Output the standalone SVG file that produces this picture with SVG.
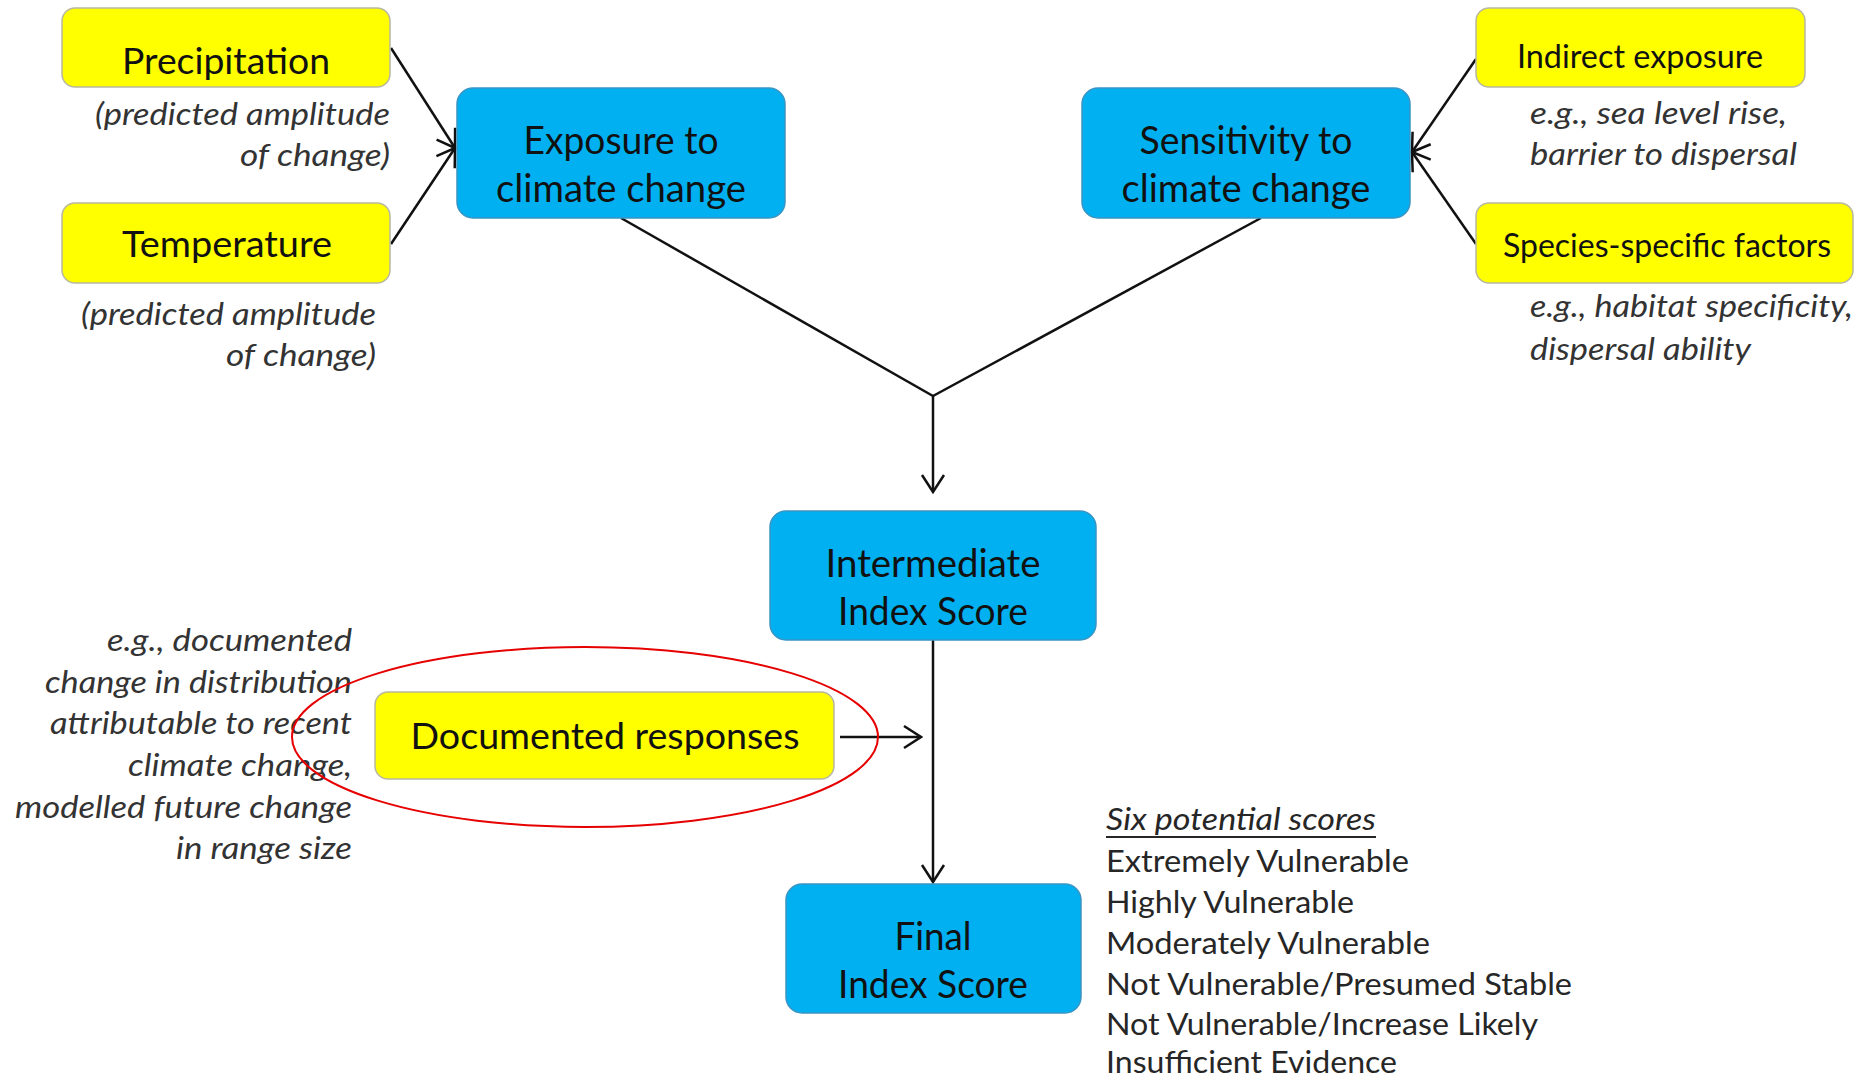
<svg xmlns="http://www.w3.org/2000/svg" width="1864" height="1081" viewBox="0 0 1864 1081">
<defs>
<style>
.blue{fill:#00B0F0;stroke:#3A94C4;stroke-width:1.5}
.yel{fill:#FFFF00;stroke:#B8B8A0;stroke-width:1.5}
.bt{font-family:Lato,"Open Sans",sans-serif;font-size:38px;fill:#111;text-anchor:middle}
.yt{font-family:Lato,"Open Sans",sans-serif;font-size:37px;fill:#111;text-anchor:middle}
.ys{font-family:Lato,"Open Sans",sans-serif;font-size:32px;fill:#111;text-anchor:middle}
.an{font-family:Lato,"Open Sans",sans-serif;font-size:31.5px;font-style:italic;fill:#333}
.ar{text-anchor:end}
.sc{font-family:Lato,"Open Sans",sans-serif;font-size:31.5px;fill:#262626}
.ln{stroke:#111;stroke-width:2.5;fill:none}
</style>
<marker id="arr" viewBox="0 0 22 28" refX="20" refY="14" markerWidth="22" markerHeight="28" orient="auto" markerUnits="userSpaceOnUse">
<path d="M3,3 L20,14 L3,25" fill="none" stroke="#111" stroke-width="2.5"/>
</marker>
</defs>
<rect width="1864" height="1081" fill="#fff"/>

<g id="connectors">
<line class="ln" x1="391" y1="48" x2="455" y2="148" marker-end="url(#arr)"/>
<line class="ln" x1="391" y1="244" x2="455" y2="148" marker-end="url(#arr)"/>
<line class="ln" x1="1476" y1="59" x2="1412" y2="152" marker-end="url(#arr)"/>
<line class="ln" x1="1476" y1="244" x2="1412" y2="152" marker-end="url(#arr)"/>
<line class="ln" x1="621" y1="218" x2="933" y2="396"/>
<line class="ln" x1="1261" y1="218" x2="933" y2="396"/>
<line class="ln" x1="933" y1="396" x2="933" y2="492" marker-end="url(#arr)"/>
<line class="ln" x1="933" y1="640" x2="933" y2="882" marker-end="url(#arr)"/>
<line class="ln" x1="840" y1="737" x2="921" y2="737" marker-end="url(#arr)"/>
</g>

<g id="precipitation">
<rect class="yel" x="62" y="8" width="328" height="79" rx="13"/>
<text class="yt" x="226" y="74" textLength="208" lengthAdjust="spacingAndGlyphs">Precipitation</text>
<text class="an ar" x="390" y="125" textLength="295" lengthAdjust="spacingAndGlyphs">(predicted amplitude</text>
<text class="an ar" x="390" y="166" textLength="150" lengthAdjust="spacingAndGlyphs">of change)</text>
</g>

<g id="temperature">
<rect class="yel" x="62" y="203" width="328" height="80" rx="13"/>
<text class="yt" x="227" y="257" textLength="210" lengthAdjust="spacingAndGlyphs">Temperature</text>
<text class="an ar" x="376" y="325" textLength="295" lengthAdjust="spacingAndGlyphs">(predicted amplitude</text>
<text class="an ar" x="376" y="366" textLength="150" lengthAdjust="spacingAndGlyphs">of change)</text>
</g>

<g id="exposure">
<rect class="blue" x="457" y="88" width="328" height="130" rx="16"/>
<text class="bt" x="621" y="154" textLength="195" lengthAdjust="spacingAndGlyphs">Exposure to</text>
<text class="bt" x="621" y="202" textLength="250" lengthAdjust="spacingAndGlyphs">climate change</text>
</g>

<g id="sensitivity">
<rect class="blue" x="1082" y="88" width="328" height="130" rx="16"/>
<text class="bt" x="1246" y="154" textLength="213" lengthAdjust="spacingAndGlyphs">Sensitivity to</text>
<text class="bt" x="1246" y="202" textLength="249" lengthAdjust="spacingAndGlyphs">climate change</text>
</g>

<g id="indirect-exposure">
<rect class="yel" x="1476" y="8" width="329" height="79" rx="13"/>
<text class="ys" x="1640" y="68" textLength="246" lengthAdjust="spacingAndGlyphs">Indirect exposure</text>
<text class="an" x="1530" y="124" textLength="257" lengthAdjust="spacingAndGlyphs">e.g., sea level rise,</text>
<text class="an" x="1530" y="165" textLength="267" lengthAdjust="spacingAndGlyphs">barrier to dispersal</text>
</g>

<g id="species-specific">
<rect class="yel" x="1476" y="203" width="377" height="80" rx="13"/>
<text class="ys" x="1667" y="257" textLength="328" lengthAdjust="spacingAndGlyphs">Species-specific factors</text>
<text class="an" x="1530" y="317" textLength="323" lengthAdjust="spacingAndGlyphs">e.g., habitat specificity,</text>
<text class="an" x="1530" y="360" textLength="221" lengthAdjust="spacingAndGlyphs">dispersal ability</text>
</g>

<g id="intermediate">
<rect class="blue" x="770" y="511" width="326" height="129" rx="16"/>
<text class="bt" x="933" y="577" textLength="215" lengthAdjust="spacingAndGlyphs">Intermediate</text>
<text class="bt" x="933" y="625" textLength="190" lengthAdjust="spacingAndGlyphs">Index Score</text>
</g>

<g id="documented-responses">
<rect class="yel" x="375" y="692" width="459" height="87" rx="13"/>
<text class="yt" x="605" y="749" textLength="389" lengthAdjust="spacingAndGlyphs">Documented responses</text>
<text class="an ar" x="352" y="651" textLength="245" lengthAdjust="spacingAndGlyphs">e.g., documented</text>
<text class="an ar" x="352" y="693" textLength="307" lengthAdjust="spacingAndGlyphs">change in distribution</text>
<text class="an ar" x="352" y="734" textLength="302" lengthAdjust="spacingAndGlyphs">attributable to recent</text>
<text class="an ar" x="352" y="776" textLength="224" lengthAdjust="spacingAndGlyphs">climate change,</text>
<text class="an ar" x="352" y="818" textLength="337" lengthAdjust="spacingAndGlyphs">modelled future change</text>
<text class="an ar" x="352" y="859" textLength="176" lengthAdjust="spacingAndGlyphs">in range size</text>
</g>

<g id="final">
<rect class="blue" x="786" y="884" width="295" height="129" rx="16"/>
<text class="bt" x="933" y="950" textLength="77" lengthAdjust="spacingAndGlyphs">Final</text>
<text class="bt" x="933" y="998" textLength="190" lengthAdjust="spacingAndGlyphs">Index Score</text>
</g>

<g id="scores">
<text class="an" x="1106" y="830" textLength="270" lengthAdjust="spacingAndGlyphs" style="fill:#262626">Six potential scores</text>
<line x1="1106" y1="837" x2="1376" y2="837" stroke="#262626" stroke-width="2"/>
<text class="sc" x="1106" y="872" textLength="303" lengthAdjust="spacingAndGlyphs">Extremely Vulnerable</text>
<text class="sc" x="1106" y="913" textLength="248" lengthAdjust="spacingAndGlyphs">Highly Vulnerable</text>
<text class="sc" x="1106" y="954" textLength="324" lengthAdjust="spacingAndGlyphs">Moderately Vulnerable</text>
<text class="sc" x="1106" y="995" textLength="466" lengthAdjust="spacingAndGlyphs">Not Vulnerable/Presumed Stable</text>
<text class="sc" x="1106" y="1035" textLength="432" lengthAdjust="spacingAndGlyphs">Not Vulnerable/Increase Likely</text>
<text class="sc" x="1106" y="1073" textLength="291" lengthAdjust="spacingAndGlyphs">Insufficient Evidence</text>
</g>

<g id="highlight">
<ellipse cx="585" cy="737" rx="293" ry="90" fill="none" stroke="#E60000" stroke-width="2"/>
</g>
</svg>
